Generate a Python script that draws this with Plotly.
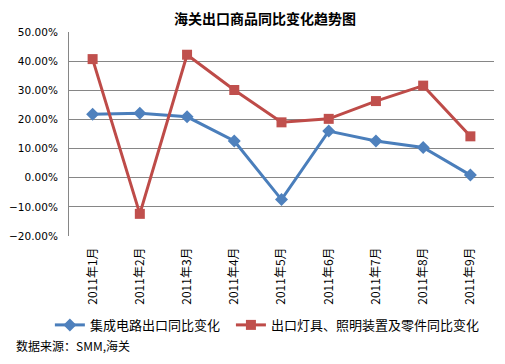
import plotly.graph_objects as go

categories = ["2011年1月", "2011年2月", "2011年3月", "2011年4月", "2011年5月",
              "2011年6月", "2011年7月", "2011年8月", "2011年9月"]
ic_values = [0.218, 0.221, 0.209, 0.126, -0.075, 0.160, 0.126, 0.104, 0.009]
lamp_values = [0.407, -0.124, 0.422, 0.301, 0.190, 0.202, 0.263, 0.316, 0.142]
series_names = ["集成电路出口同比变化", "出口灯具、照明装置及零件同比变化"]
y_ticks = [-0.2, -0.1, 0.0, 0.1, 0.2, 0.3, 0.4, 0.5]
title_text = "海关出口商品同比变化趋势图"
source_text = "数据来源：SMM,海关"

CJK = "Noto Sans CJK SC"
NUM = "DejaVu Sans"

fig = go.Figure()
fig.add_trace(go.Scatter(
    x=categories, y=ic_values, name=series_names[0], mode="lines+markers",
    line=dict(color="#4A7EBB", width=3),
    marker=dict(symbol="diamond", size=10, color="#4F81BD", line=dict(width=0)),
    legend="legend",
))
fig.add_trace(go.Scatter(
    x=categories, y=lamp_values, name=series_names[1], mode="lines+markers",
    line=dict(color="#BE4B48", width=3),
    marker=dict(symbol="square", size=10, color="#C0504D", line=dict(width=0)),
    legend="legend2",
))

legend_common = dict(orientation="h", yanchor="middle", xanchor="left",
                     font=dict(family=CJK, size=13, color="#000000"),
                     itemwidth=30, bgcolor="rgba(0,0,0,0)")

fig.update_layout(
    width=489, height=348,
    margin=dict(l=61, r=3, t=24, b=120, autoexpand=False),
    paper_bgcolor="white", plot_bgcolor="white",
    title=dict(text="<b>" + title_text + "</b>", x=257 / 489, xanchor="center",
               y=1 - 11.5 / 348, yanchor="middle",
               font=dict(family=CJK, size=14, color="#000000")),
    showlegend=True,
    legend=dict(x=-0.045, y=-0.436, **legend_common),
    legend2=dict(x=0.381, y=-0.436, **legend_common),
    xaxis=dict(
        type="category", range=[-0.5, 8.5], automargin=False,
        tickangle=-90, tickfont=dict(family=CJK, size=12, color="#000000"),
        ticklabelstandoff=8,
        showgrid=False, showline=False, ticks="", zeroline=False,
    ),
    yaxis=dict(
        range=[-0.2, 0.5], tickvals=y_ticks, tickformat=".2%", automargin=False,
        tickfont=dict(family=NUM, size=10.5, color="#000000"),
        ticklabelstandoff=8,
        showgrid=True, gridcolor="#868686", gridwidth=1,
        showline=True, linecolor="#868686", linewidth=1,
        zeroline=False, ticks="", ticklen=0,
    ),
    annotations=[dict(
        text=source_text, xref="paper", yref="paper", x=-0.129, y=-0.537,
        xanchor="left", yanchor="middle", showarrow=False,
        font=dict(family=CJK, size=12, color="#000000"),
    )],
)

fig.write_html("out.html")
